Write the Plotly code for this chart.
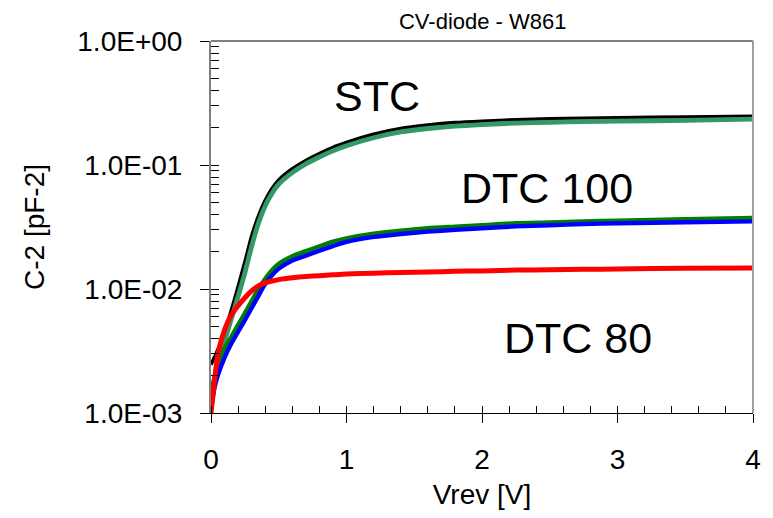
import plotly.graph_objects as go

# Reverse voltage [V]
vrev = [0, 0.025, 0.05, 0.1, 0.15, 0.2, 0.25, 0.3, 0.35, 0.4, 0.45, 0.5, 0.6, 0.7,
        0.8, 0.9, 1.0, 1.2, 1.4, 1.6, 1.8, 2.0, 2.25, 2.5, 2.75, 3.0, 3.5, 4.0]

# C^-2 [pF^-2]
stc_a = [0.00245, 0.00282, 0.00324, 0.00452, 0.00676, 0.0105, 0.0166, 0.0269, 0.0389,
         0.0519, 0.0646, 0.0759, 0.0933, 0.109, 0.124, 0.139, 0.152, 0.177, 0.197,
         0.210, 0.220, 0.226, 0.232, 0.236, 0.239, 0.241, 0.244, 0.247]
stc_b = [0.00141, 0.00191, 0.00251, 0.00380, 0.00575, 0.00871, 0.0135, 0.0221, 0.0339,
         0.0468, 0.0589, 0.0700, 0.0867, 0.102, 0.116, 0.130, 0.143, 0.166, 0.185,
         0.197, 0.206, 0.212, 0.218, 0.221, 0.224, 0.226, 0.229, 0.234]
dtc100_a = [0.00141, 0.00191, 0.00240, 0.00331, 0.00412, 0.00513, 0.00638, 0.00798, 0.0100,
            0.0121, 0.0142, 0.0160, 0.0184, 0.0202, 0.0221, 0.0241, 0.0256, 0.0279, 0.0295,
            0.0309, 0.0318, 0.0327, 0.0339, 0.0344, 0.0351, 0.0356, 0.0366, 0.0374]
dtc100_b = [0.00107, 0.00158, 0.00200, 0.00279, 0.00363, 0.00452, 0.00562, 0.00703, 0.00881,
            0.0110, 0.0129, 0.0146, 0.0170, 0.0186, 0.0204, 0.0222, 0.0240, 0.0263, 0.0278,
            0.0290, 0.0300, 0.0309, 0.0320, 0.0327, 0.0334, 0.0339, 0.0345, 0.0351]
dtc80 = [0.00100, 0.00178, 0.00295, 0.00468, 0.00617, 0.00733, 0.00851, 0.00966, 0.0106,
         0.0112, 0.0116, 0.0119, 0.0123, 0.0126, 0.0128, 0.0130, 0.0132, 0.0134, 0.0136,
         0.0137, 0.0139, 0.0140, 0.0142, 0.0143, 0.0144, 0.0145, 0.0147, 0.0148]

y_tickvals = [1e-3, 1e-2, 1e-1, 1e0]
y_ticktext = ["1.0E-03", "1.0E-02", "1.0E-01", "1.0E+00"]
x_tickvals = [0, 1, 2, 3, 4]

FONT = "Liberation Sans, Arial, sans-serif"

series = [
    (stc_a, "#000000", 3.4),
    (stc_b, "#339966", 4.8),
    (dtc100_a, "#008000", 4.4),
    (dtc100_b, "#0000FF", 4.4),
    (dtc80, "#FF0000", 5.0),
]

fig = go.Figure()
for ys, col, w in series:
    fig.add_trace(go.Scatter(x=vrev, y=ys, mode="lines",
                             line=dict(color=col, width=w, shape="spline", smoothing=0.6),
                             showlegend=False, hoverinfo="skip"))

# overlay axis for the upward part of the major x ticks
fig.add_trace(go.Scatter(x=[0, 4], y=[1e-3, 1e-3], xaxis="x2", mode="lines",
                         line=dict(width=0), showlegend=False, hoverinfo="skip"))

fig.update_layout(
    width=773, height=518,
    margin=dict(l=211, r=16, t=41, b=105),
    paper_bgcolor="white", plot_bgcolor="white",
    font=dict(family=FONT, color="black"),
    title=dict(text="CV-diode - W861", x=0.6245, xanchor="center", y=0.959, yanchor="middle",
               font=dict(size=22, family=FONT, color="black")),
    xaxis=dict(range=[0, 4], tickmode="array", tickvals=x_tickvals,
               ticks="outside", ticklen=9, tickwidth=1, tickcolor="black",
               showline=True, linecolor="black", linewidth=1,
               showgrid=False, zeroline=False,
               tickfont=dict(size=28, family=FONT, color="black"),
               ticklabelstandoff=12,
               minor=dict(dtick=0.2, tick0=0, ticks="inside", ticklen=7, tickcolor="black", showgrid=False),
               title=dict(text="Vrev [V]", font=dict(size=28, family=FONT, color="black"), standoff=10)),
    xaxis2=dict(range=[0, 4], overlaying="x", side="bottom", tickmode="array", tickvals=x_tickvals,
                ticks="inside", ticklen=7, tickcolor="black", showticklabels=False,
                showline=False, showgrid=False, zeroline=False),
    yaxis=dict(type="log", range=[-3, 0], tickmode="array", tickvals=y_tickvals, ticktext=y_ticktext,
               ticks="outside", ticklen=9, tickwidth=1, tickcolor="black",
               showline=True, linecolor="#808080", linewidth=2,
               showgrid=False, zeroline=False,
               tickfont=dict(size=28, family=FONT, color="black"),
               ticklabelstandoff=12,
               minor=dict(dtick="D1", ticks="inside", ticklen=8, tickcolor="black", showgrid=False),
               title=dict(text="C-2 [pF-2]", font=dict(size=28, family=FONT, color="black"), standoff=24)),
    shapes=[
        dict(type="line", xref="paper", yref="paper", x0=0, x1=1, y0=1, y1=1,
             line=dict(color="#808080", width=2)),
        dict(type="line", xref="paper", yref="paper", x0=1, x1=1, y0=0, y1=1,
             line=dict(color="#a0a0a0", width=2)),
    ],
    annotations=[
        dict(x=1.224, y=-0.447, text="STC", showarrow=False,
             font=dict(size=43, family=FONT, color="black")),
        dict(x=2.48, y=-1.185, text="DTC 100", showarrow=False,
             font=dict(size=43, family=FONT, color="black")),
        dict(x=2.71, y=-2.399, text="DTC 80", showarrow=False,
             font=dict(size=43, family=FONT, color="black")),
    ],
)

fig.write_html("out.html")
